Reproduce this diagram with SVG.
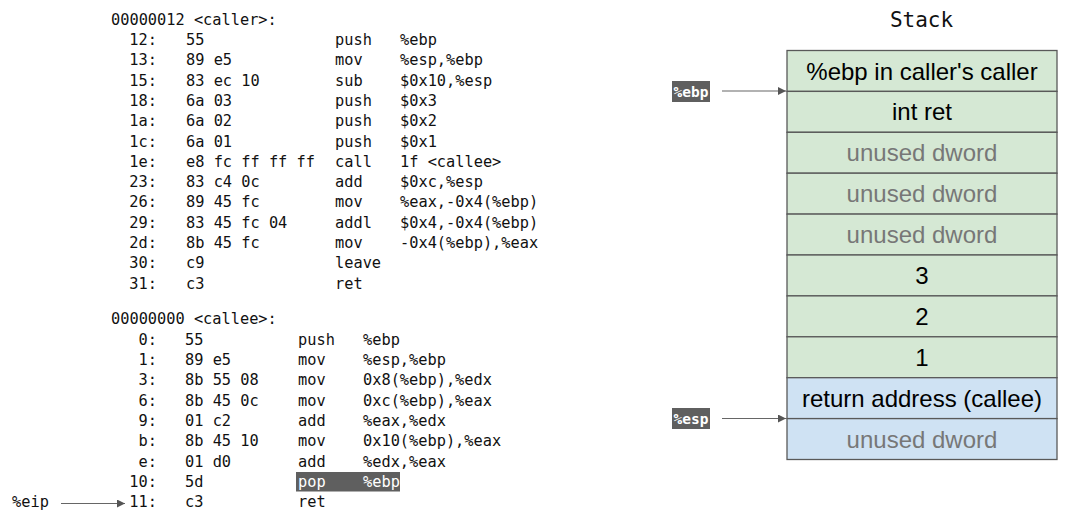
<svg xmlns="http://www.w3.org/2000/svg" width="1079" height="512" viewBox="0 0 1079 512">
<style>
.m{font-family:"DejaVu Sans Mono","Liberation Mono",monospace;font-size:15.3px;fill:#111}
.a{text-anchor:end}
.w{fill:#fff}
.lbl{font-family:"DejaVu Sans Mono","Liberation Mono",monospace;font-size:14.5px;font-weight:bold;fill:#fff;text-anchor:middle}
.cell{stroke:#595959;stroke-width:1.3}
.g{fill:#d5e8d4}
.b{fill:#cfe2f3}
.st{font-family:"Liberation Sans",Arial,sans-serif;font-size:24px;text-anchor:middle;fill:#000}
.u{fill:#777}
.ln{stroke:#666;stroke-width:1.2;fill:none}
</style>
<defs>
<marker id="ah" viewBox="0 0 10 10" refX="10" refY="5" markerWidth="8" markerHeight="8" markerUnits="userSpaceOnUse" orient="auto">
<path d="M0,0 L10,5 L0,10 z" fill="#555"/>
</marker>
</defs>
<g id="caller">
<text class="m" x="111" y="24.5">00000012 &lt;caller&gt;:</text>
<text class="m a" x="157" y="44.8">12:</text><text class="m" x="186" y="44.8">55</text><text class="m" x="335" y="44.8">push</text><text class="m" x="400" y="44.8">%ebp</text>
<text class="m a" x="157" y="65.1">13:</text><text class="m" x="186" y="65.1">89 e5</text><text class="m" x="335" y="65.1">mov</text><text class="m" x="400" y="65.1">%esp,%ebp</text>
<text class="m a" x="157" y="85.5">15:</text><text class="m" x="186" y="85.5">83 ec 10</text><text class="m" x="335" y="85.5">sub</text><text class="m" x="400" y="85.5">$0x10,%esp</text>
<text class="m a" x="157" y="105.8">18:</text><text class="m" x="186" y="105.8">6a 03</text><text class="m" x="335" y="105.8">push</text><text class="m" x="400" y="105.8">$0x3</text>
<text class="m a" x="157" y="126.1">1a:</text><text class="m" x="186" y="126.1">6a 02</text><text class="m" x="335" y="126.1">push</text><text class="m" x="400" y="126.1">$0x2</text>
<text class="m a" x="157" y="146.5">1c:</text><text class="m" x="186" y="146.5">6a 01</text><text class="m" x="335" y="146.5">push</text><text class="m" x="400" y="146.5">$0x1</text>
<text class="m a" x="157" y="166.8">1e:</text><text class="m" x="186" y="166.8">e8 fc ff ff ff</text><text class="m" x="335" y="166.8">call</text><text class="m" x="400" y="166.8">1f &lt;callee&gt;</text>
<text class="m a" x="157" y="187.1">23:</text><text class="m" x="186" y="187.1">83 c4 0c</text><text class="m" x="335" y="187.1">add</text><text class="m" x="400" y="187.1">$0xc,%esp</text>
<text class="m a" x="157" y="207.4">26:</text><text class="m" x="186" y="207.4">89 45 fc</text><text class="m" x="335" y="207.4">mov</text><text class="m" x="400" y="207.4">%eax,-0x4(%ebp)</text>
<text class="m a" x="157" y="227.8">29:</text><text class="m" x="186" y="227.8">83 45 fc 04</text><text class="m" x="335" y="227.8">addl</text><text class="m" x="400" y="227.8">$0x4,-0x4(%ebp)</text>
<text class="m a" x="157" y="248.1">2d:</text><text class="m" x="186" y="248.1">8b 45 fc</text><text class="m" x="335" y="248.1">mov</text><text class="m" x="400" y="248.1">-0x4(%ebp),%eax</text>
<text class="m a" x="157" y="268.4">30:</text><text class="m" x="186" y="268.4">c9</text><text class="m" x="335" y="268.4">leave</text>
<text class="m a" x="157" y="288.8">31:</text><text class="m" x="186" y="288.8">c3</text><text class="m" x="335" y="288.8">ret</text>
</g>
<g id="callee">
<text class="m" x="111" y="324.4">00000000 &lt;callee&gt;:</text>
<text class="m a" x="157" y="344.7">0:</text><text class="m" x="185" y="344.7">55</text><text class="m" x="298" y="344.7">push</text><text class="m" x="363" y="344.7">%ebp</text>
<text class="m a" x="157" y="365">1:</text><text class="m" x="185" y="365">89 e5</text><text class="m" x="298" y="365">mov</text><text class="m" x="363" y="365">%esp,%ebp</text>
<text class="m a" x="157" y="385.4">3:</text><text class="m" x="185" y="385.4">8b 55 08</text><text class="m" x="298" y="385.4">mov</text><text class="m" x="363" y="385.4">0x8(%ebp),%edx</text>
<text class="m a" x="157" y="405.7">6:</text><text class="m" x="185" y="405.7">8b 45 0c</text><text class="m" x="298" y="405.7">mov</text><text class="m" x="363" y="405.7">0xc(%ebp),%eax</text>
<text class="m a" x="157" y="426">9:</text><text class="m" x="185" y="426">01 c2</text><text class="m" x="298" y="426">add</text><text class="m" x="363" y="426">%eax,%edx</text>
<text class="m a" x="157" y="446.4">b:</text><text class="m" x="185" y="446.4">8b 45 10</text><text class="m" x="298" y="446.4">mov</text><text class="m" x="363" y="446.4">0x10(%ebp),%eax</text>
<text class="m a" x="157" y="466.7">e:</text><text class="m" x="185" y="466.7">01 d0</text><text class="m" x="298" y="466.7">add</text><text class="m" x="363" y="466.7">%edx,%eax</text>
<rect x="296" y="472" width="104" height="19.5" fill="#5f5f5f"/>
<text class="m a" x="157" y="487">10:</text><text class="m" x="185" y="487">5d</text><text class="m w" x="298" y="487">pop</text><text class="m w" x="363" y="487">%ebp</text>
<text class="m a" x="157" y="507.3">11:</text><text class="m" x="185" y="507.3">c3</text><text class="m" x="298" y="507.3">ret</text>
</g>
<g id="eip">
<text class="m" x="12" y="507.3">%eip</text>
</g>
<g id="stack">
<text x="921.5" y="26.5" text-anchor="middle" style="font-family:'DejaVu Sans Mono','Liberation Mono',monospace;font-size:21px;fill:#111">Stack</text>
<rect class="cell g" x="787" y="50.5" width="270" height="40.9"/>
<rect class="cell g" x="787" y="91.4" width="270" height="40.9"/>
<rect class="cell g" x="787" y="132.3" width="270" height="40.9"/>
<rect class="cell g" x="787" y="173.2" width="270" height="40.9"/>
<rect class="cell g" x="787" y="214.1" width="270" height="40.9"/>
<rect class="cell g" x="787" y="255" width="270" height="40.9"/>
<rect class="cell g" x="787" y="295.9" width="270" height="40.9"/>
<rect class="cell g" x="787" y="336.8" width="270" height="40.9"/>
<rect class="cell b" x="787" y="377.7" width="270" height="40.9"/>
<rect class="cell b" x="787" y="418.6" width="270" height="40.9"/>
<text class="st" x="922" y="79.5">%ebp in caller's caller</text>
<text class="st" x="922" y="120.4">int ret</text>
<text class="st u" x="922" y="161.3">unused dword</text>
<text class="st u" x="922" y="202.2">unused dword</text>
<text class="st u" x="922" y="243.1">unused dword</text>
<text class="st" x="922" y="284">3</text>
<text class="st" x="922" y="324.9">2</text>
<text class="st" x="922" y="365.8">1</text>
<text class="st" x="922" y="406.7">return address (callee)</text>
<text class="st u" x="922" y="447.6">unused dword</text>
</g>
<g id="ebp-label">
<rect x="672" y="81" width="38" height="21" fill="#5f5f5f"/>
<text class="lbl" x="691" y="96.5">%ebp</text>
</g>
<g id="esp-label">
<rect x="672" y="408" width="38" height="21" fill="#5f5f5f"/>
<text class="lbl" x="691" y="423.5">%esp</text>
</g>
<g id="connectors">
<line class="ln" x1="722" y1="91" x2="786" y2="91" marker-end="url(#ah)"/>
<line class="ln" x1="722" y1="418.5" x2="786" y2="418.5" marker-end="url(#ah)"/>
<line class="ln" x1="61" y1="503.5" x2="125" y2="503.5" marker-end="url(#ah)"/>
</g>
</svg>
